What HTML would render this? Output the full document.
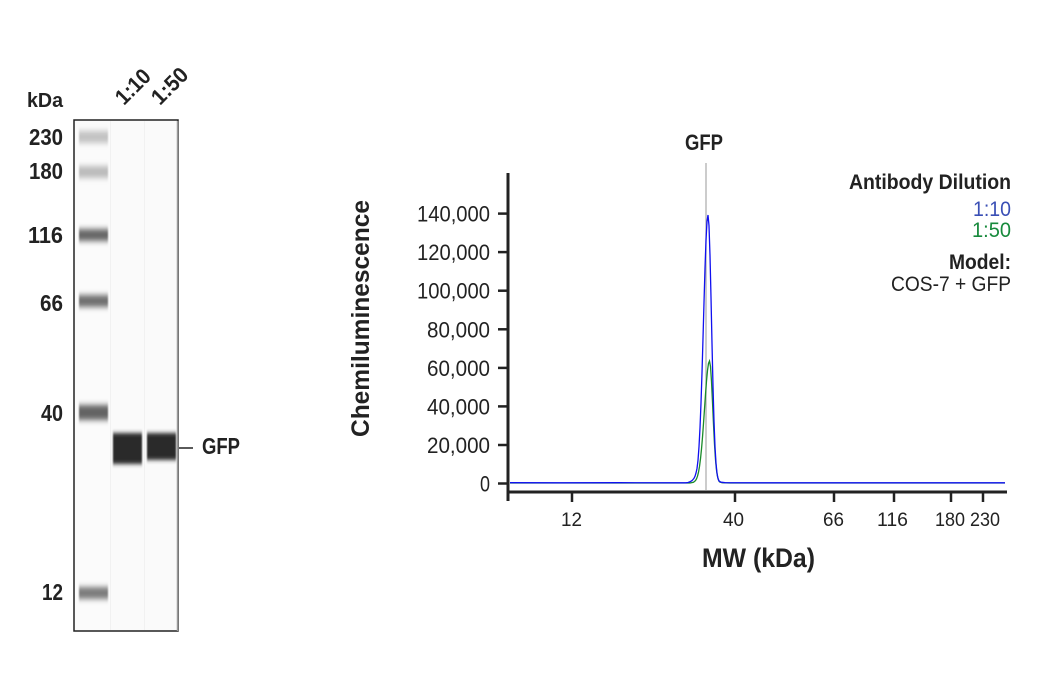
<!DOCTYPE html>
<html><head><meta charset="utf-8"><style>
html,body{margin:0;padding:0;background:#fff;}
svg{display:block;}
text{font-family:"Liberation Sans",sans-serif;fill:#222;}
.b{font-weight:bold;}
</style></head><body>
<svg width="1040" height="700" viewBox="0 0 1040 700" xmlns="http://www.w3.org/2000/svg">
<defs>
<filter id="bl" x="-20%" y="-150%" width="140%" height="400%"><feGaussianBlur stdDeviation="0.7 2.8"/></filter>
<filter id="bl2" x="-20%" y="-50%" width="140%" height="200%"><feGaussianBlur stdDeviation="0.7 2.0"/></filter>
</defs>
<!-- Blot -->
<rect x="74" y="120" width="104" height="511" fill="#fafafa" stroke="#222" stroke-width="1.5"/>
<rect x="75" y="121" width="35" height="509" fill="#fbfbfb"/>
<line x1="110.5" y1="121" x2="110.5" y2="630" stroke="#f1f1f1" stroke-width="1"/>
<line x1="144.5" y1="121" x2="144.5" y2="630" stroke="#f1f1f1" stroke-width="1"/>
<line x1="177.5" y1="121" x2="177.5" y2="631" stroke="#999" stroke-width="1.5"/>
<g filter="url(#bl)">
<rect x="79" y="131" width="29" height="12" fill="#c2c2c2"/>
<rect x="79" y="166" width="29" height="12" fill="#bbbbbb"/>
<rect x="79" y="229" width="29" height="12" fill="#666"/>
<rect x="79" y="295" width="29" height="12" fill="#6e6e6e"/>
<rect x="79" y="405" width="29" height="15" fill="#636363"/>
<rect x="79" y="587" width="29" height="12" fill="#7a7a7a"/>
</g>
<g filter="url(#bl2)">
<rect x="113" y="433" width="29" height="31" fill="#2b2b2b"/>
<rect x="147" y="433" width="29" height="27" fill="#2b2b2b"/>
</g>
<line x1="179" y1="448" x2="193" y2="448" stroke="#222" stroke-width="1.5"/>
<text class="b" x="202" y="454" font-size="23" textLength="38" lengthAdjust="spacingAndGlyphs">GFP</text>
<text class="b" x="27" y="107" font-size="20" textLength="36" lengthAdjust="spacingAndGlyphs">kDa</text>
<text class="b" x="29" y="145" font-size="23" textLength="34" lengthAdjust="spacingAndGlyphs">230</text>
<text class="b" x="29" y="179" font-size="23" textLength="34" lengthAdjust="spacingAndGlyphs">180</text>
<text class="b" x="28" y="243" font-size="23" textLength="35" lengthAdjust="spacingAndGlyphs">116</text>
<text class="b" x="40" y="311" font-size="23" textLength="23" lengthAdjust="spacingAndGlyphs">66</text>
<text class="b" x="41" y="421" font-size="23" textLength="22" lengthAdjust="spacingAndGlyphs">40</text>
<text class="b" x="42" y="600" font-size="23" textLength="21" lengthAdjust="spacingAndGlyphs">12</text>
<text class="b" font-size="22" textLength="40" lengthAdjust="spacingAndGlyphs" transform="translate(124,106) rotate(-45)">1:10</text>
<text class="b" font-size="22" textLength="42" lengthAdjust="spacingAndGlyphs" transform="translate(160,106) rotate(-45)">1:50</text>

<!-- Chart -->
<text class="b" font-size="25" textLength="237" lengthAdjust="spacingAndGlyphs" transform="translate(369,437) rotate(-90)">Chemiluminescence</text>
<g font-size="22">
<text x="417" y="221.5" textLength="73" lengthAdjust="spacingAndGlyphs">140,000</text>
<text x="417" y="260" textLength="73" lengthAdjust="spacingAndGlyphs">120,000</text>
<text x="417" y="298.7" textLength="73" lengthAdjust="spacingAndGlyphs">100,000</text>
<text x="427" y="337.3" textLength="63" lengthAdjust="spacingAndGlyphs">80,000</text>
<text x="427" y="375.9" textLength="63" lengthAdjust="spacingAndGlyphs">60,000</text>
<text x="427" y="414.4" textLength="63" lengthAdjust="spacingAndGlyphs">40,000</text>
<text x="427" y="453" textLength="63" lengthAdjust="spacingAndGlyphs">20,000</text>
<text x="480" y="491.5" textLength="10" lengthAdjust="spacingAndGlyphs">0</text>
</g>
<g stroke="#222" stroke-width="2.5">
<line x1="498" y1="213.6" x2="508" y2="213.6"/>
<line x1="498" y1="252.1" x2="508" y2="252.1"/>
<line x1="498" y1="290.7" x2="508" y2="290.7"/>
<line x1="498" y1="329.3" x2="508" y2="329.3"/>
<line x1="498" y1="367.9" x2="508" y2="367.9"/>
<line x1="498" y1="406.4" x2="508" y2="406.4"/>
<line x1="498" y1="445" x2="508" y2="445"/>
<line x1="498" y1="483.5" x2="508" y2="483.5"/>
<line x1="572" y1="492" x2="572" y2="502"/>
<line x1="735" y1="492" x2="735" y2="502"/>
<line x1="834" y1="492" x2="834" y2="502"/>
<line x1="894" y1="492" x2="894" y2="502"/>
<line x1="951" y1="492" x2="951" y2="502"/>
<line x1="983" y1="492" x2="983" y2="502"/>
</g>
<line x1="508" y1="173" x2="508" y2="501" stroke="#222" stroke-width="3"/>
<line x1="507" y1="492" x2="1007" y2="492" stroke="#222" stroke-width="3"/>
<g font-size="19">
<text x="561" y="526" textLength="21" lengthAdjust="spacingAndGlyphs">12</text>
<text x="723" y="526" textLength="21" lengthAdjust="spacingAndGlyphs">40</text>
<text x="823" y="526" textLength="21" lengthAdjust="spacingAndGlyphs">66</text>
<text x="877" y="526" textLength="31" lengthAdjust="spacingAndGlyphs">116</text>
<text x="935" y="526" textLength="30" lengthAdjust="spacingAndGlyphs">180</text>
<text x="970" y="526" textLength="30" lengthAdjust="spacingAndGlyphs">230</text>
</g>
<text class="b" x="702" y="567" font-size="27" textLength="113" lengthAdjust="spacingAndGlyphs">MW (kDa)</text>
<line x1="706" y1="163" x2="706" y2="490" stroke="#aaa" stroke-width="1.2"/>
<text class="b" x="685" y="150" font-size="22" textLength="38" lengthAdjust="spacingAndGlyphs">GFP</text>

<!-- green trace -->
<polyline fill="none" stroke="#1a8a2a" stroke-width="1.3" points="510,483 690,483 693.5,482.3 695.5,480.6 696.5,478.8 697.5,476.2 698.5,472.2 699.5,466.5 700.5,458.8 701.5,449.1 702.5,437.2 703.5,423.6 704.5,409 705.5,394.4 706.5,381.1 707.5,370.4 708.5,363.4 709.5,361 710.5,366.5 711.5,381.4 712.5,402.3 713.5,424.4 714.5,444.3 715.5,459.6 716.5,470.1 717.5,476.5 718.5,480 719.5,481.8 722,482.7 730,483 1005,483"/>
<!-- blue trace -->
<polyline fill="none" stroke="#1010f0" stroke-width="1.3" points="510,482.7 560,482.8 620,482.7 686,482.8 688,482.5 690,481.8 692,480.6 693,479.5 694,478.3 695,476.3 696,473 697,468.5 698,460.3 699,446.7 700,427.8 701,403.1 702,372.8 703,338.4 704,302.5 705,268.4 706,240.2 707,221.5 708,215 709,225.7 710,255.4 711,297.4 712,343.5 713,386.4 714,421.3 715,446.7 716,463.3 717,473.2 718,478.5 719,481 721,482.2 725,482.7 760,482.8 1005,482.8"/>

<!-- legend -->
<text class="b" x="849" y="189" font-size="21" textLength="162" lengthAdjust="spacingAndGlyphs">Antibody Dilution</text>
<text x="973" y="216" font-size="21" textLength="38" lengthAdjust="spacingAndGlyphs" style="fill:#3a4fb5">1:10</text>
<text x="972" y="237" font-size="21" textLength="39" lengthAdjust="spacingAndGlyphs" style="fill:#178a3c">1:50</text>
<text class="b" x="949" y="269" font-size="21" textLength="62" lengthAdjust="spacingAndGlyphs">Model:</text>
<text x="891" y="291" font-size="21" textLength="120" lengthAdjust="spacingAndGlyphs">COS-7 + GFP</text>
</svg>
</body></html>
